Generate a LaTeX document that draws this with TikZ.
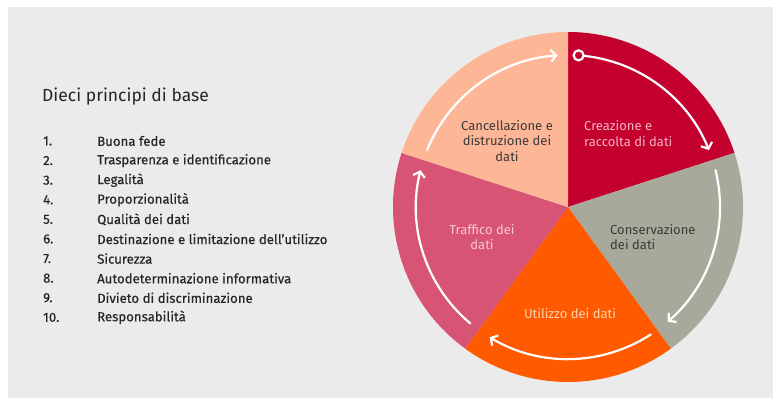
\documentclass[tikz,border=0pt]{standalone}
\usepackage{fontspec}
\setmainfont{Fira Sans}
\newfontfamily\listfont[FakeBold=0.35]{Fira Sans}
\usetikzlibrary{arrows.meta,calc}
\definecolor{bgc}{HTML}{EBEBEB}
\definecolor{cred}{HTML}{C4002F}
\definecolor{cgrey}{HTML}{A9A99B}
\definecolor{corange}{HTML}{FF5A00}
\definecolor{cpink}{HTML}{D75475}
\definecolor{cpeach}{HTML}{FDB797}
\definecolor{tdark}{HTML}{262626}
\definecolor{tslice}{HTML}{3A3A3A}
\definecolor{tred}{HTML}{F6B1C0}
\definecolor{tpink}{HTML}{F7C8D3}
\definecolor{torange}{HTML}{FFD3AE}
\tikzset{
  slicetext/.style={font=\fontsize{13}{15.5}\selectfont, inner sep=0pt},
  itemtext/.style={font=\listfont\fontsize{13.2}{14}\selectfont, text=tdark, anchor=west, inner sep=0pt},
  cyclearc/.style={draw=white, line width=2.2pt, line cap=round},
  cyclehead/.style={-{Straight Barb[length=5pt,width=12pt,line width=2.2pt]}},
}
\begin{document}
\begin{tikzpicture}[x=1pt,y=1pt]
\useasboundingbox (0,0) rectangle (773,398);
\fill[white] (0,0) rectangle (773,398);
\fill[bgc] (8,0) rectangle (773,391);
\coordinate (c) at (568,191);
\def\R{175}
\fill[cred] (c) -- ++(90:\R) arc[start angle=90,end angle=18,radius=\R] -- cycle;
\fill[cgrey] (c) -- ++(18:\R) arc[start angle=18,end angle=-54,radius=\R] -- cycle;
\fill[corange] (c) -- ++(-54:\R) arc[start angle=-54,end angle=-126,radius=\R] -- cycle;
\fill[cpink] (c) -- ++(-126:\R) arc[start angle=-126,end angle=-198,radius=\R] -- cycle;
\fill[cpeach] (c) -- ++(162:\R) arc[start angle=162,end angle=90,radius=\R] -- cycle;
% arrows
\def\r{152}
\coordinate (s0) at ($(c)+(86:\r)$);
\draw[cyclearc] (s0) circle[radius=5pt];
\draw[cyclearc,cyclehead] ($(c)+(84:\r)$) arc[start angle=84,end angle=22,radius=\r];
\draw[cyclearc,cyclehead] ($(c)+(14:\r)$) arc[start angle=14,end angle=-49,radius=\r];
\draw[cyclearc,cyclehead] ($(c)+(-57:\r)$) arc[start angle=-57,end angle=-121,radius=\r];
\draw[cyclearc,cyclehead] ($(c)+(-130:\r)$) arc[start angle=-130,end angle=-194,radius=\r];
\draw[cyclearc,cyclehead] ($(c)+(158:\r)$) arc[start angle=158,end angle=94,radius=\r];
% slice texts
\node[slicetext,text=tslice,align=center] (t1) at (507,257) {Cancellazione e\\distruzione dei\\dati};
\node[slicetext,text=tred,align=left,anchor=west] (t2) at (584,264.5) {Creazione e\\raccolta di dati};
\node[slicetext,text=tslice,align=left,anchor=west] (t3) at (610,161) {Conservazione\\dei dati};
\node[slicetext,text=torange] (t4) at (570,84) {Utilizzo dei dati};
\node[slicetext,text=tpink,align=center] (t5) at (482,161) {Traffico dei\\dati};
% left list
\node[anchor=west,inner sep=0pt,text=tdark,font=\fontsize{17.5}{18}\selectfont] (title) at (42,301) {Dieci principi di base};
\foreach \n/\t [count=\i from 0] in {1./Buona fede,2./Trasparenza e identificazione,3./Legalità,4./Proporzionalità,5./Qualità dei dati,6./Destinazione e limitazione dell’utilizzo,7./Sicurezza,8./Autodeterminazione informativa,9./Divieto di discriminazione,10./Responsabilità}{
  \node[itemtext] (n\i) at (43,257-19.6*\i) {\n};
  \node[itemtext] (l\i) at (97,257-19.6*\i) {\t};
}
\end{tikzpicture}
\end{document}
